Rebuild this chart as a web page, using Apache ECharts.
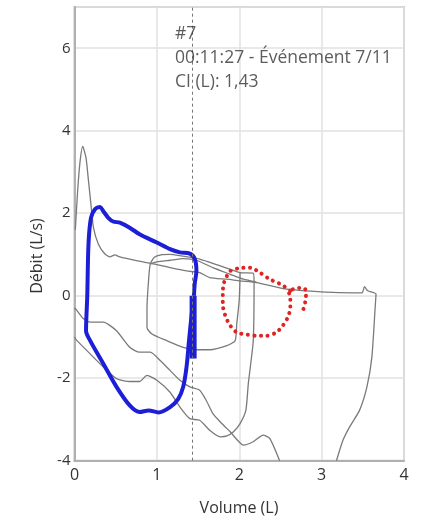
<!DOCTYPE html>
<html>
<head>
<meta charset="utf-8">
<script src="https://cdn.jsdelivr.net/npm/echarts@6/dist/echarts.min.js"></script>
<style>
  html, body { margin: 0; padding: 0; background: #ffffff; }
  #chart { width: 429px; height: 518px; }
</style>
</head>
<body>
<div id="chart"></div>
<script>
// Axis ticks
const xTicks = [0, 1, 2, 3, 4];
const yTicks = [-4, -2, 0, 2, 4, 6];

// Event marker: inspiratory capacity (L)
const eventVolume = 1.43;
const annotationLines = ['#7', '00:11:27 - Événement 7/11', 'CI (L): 1,43'];

// Highlighted loop (blue)
const blueLoop = [
  [1.45, 0.0], [1.46, 0.3], [1.48, 0.6], [1.46, 0.89], [1.40, 1.02], [1.28, 1.05],
  [1.16, 1.13], [1.00, 1.29], [0.79, 1.49], [0.67, 1.65], [0.55, 1.77], [0.47, 1.80],
  [0.41, 1.89], [0.35, 2.05], [0.31, 2.15], [0.25, 2.10], [0.20, 1.89], [0.17, 1.26],
  [0.155, 0.0], [0.14, -0.85], [0.19, -1.09], [0.35, -1.65], [0.51, -2.21], [0.67, -2.66],
  [0.79, -2.82], [0.90, -2.78], [1.02, -2.83], [1.16, -2.70], [1.26, -2.50], [1.32, -2.21],
  [1.36, -1.73], [1.39, -1.09], [1.42, -0.5], [1.45, 0.0]
];
// Thick segment at end of the highlighted loop
const blueBar = [[1.44, 0.0], [1.44, -1.52]];

// Reference loop (red dotted)
const redLoop = [
  [2.78, -0.32], [2.80, -0.16], [2.81, 0.0], [2.80, 0.16], [2.74, 0.19], [2.66, 0.16],
  [2.60, 0.10], [2.62, -0.04], [2.62, -0.28], [2.59, -0.52], [2.53, -0.72], [2.45, -0.89],
  [2.33, -0.97], [2.21, -0.97], [2.09, -0.94], [1.97, -0.89], [1.89, -0.72], [1.83, -0.48],
  [1.80, -0.20], [1.80, 0.04], [1.81, 0.28], [1.85, 0.48], [1.89, 0.60], [2.01, 0.67],
  [2.13, 0.68], [2.25, 0.56], [2.37, 0.40], [2.50, 0.28], [2.58, 0.18], [2.62, 0.12]
];

// Other recorded loops (grey)
const greySpike = [
  [0.01, 1.6], [0.04, 2.6], [0.07, 3.3], [0.10, 3.62], [0.14, 3.34], [0.17, 2.78],
  [0.20, 2.21], [0.23, 1.65], [0.29, 1.25], [0.37, 1.01], [0.43, 0.94], [0.49, 0.99],
  [0.55, 0.94], [0.75, 0.85], [0.96, 0.77], [1.16, 0.68], [1.36, 0.60], [1.52, 0.56],
  [1.64, 0.44], [1.85, 0.40], [2.01, 0.36], [2.21, 0.32], [2.58, 0.16], [3.14, 0.08],
  [3.49, 0.07], [3.52, 0.22], [3.56, 0.12], [3.66, 0.04], [3.65, -0.28], [3.61, -1.49],
  [3.55, -2.21], [3.46, -2.78], [3.34, -3.18], [3.26, -3.5], [3.18, -4.0]
];
const greyBox = [
  [2.01, 0.56], [2.00, -0.1], [1.97, -0.68], [1.95, -1.09], [1.85, -1.21], [1.64, -1.31],
  [1.48, -1.31], [1.32, -1.25], [1.12, -1.09], [0.94, -0.93], [0.88, -0.77], [0.88, -0.3],
  [0.90, 0.4], [0.92, 0.77], [0.97, 0.93], [1.05, 0.99], [1.16, 1.0], [1.28, 0.97],
  [1.52, 0.89], [1.89, 0.64], [2.01, 0.56], [2.17, 0.55], [2.18, 0.3], [2.17, -1.09],
  [2.13, -1.8], [2.11, -2.13], [2.08, -2.78], [2.01, -3.10], [1.93, -3.30], [1.85, -3.40],
  [1.77, -3.42], [1.64, -3.26], [1.52, -3.02], [1.40, -2.98], [1.28, -2.70], [1.16, -2.34],
  [1.00, -2.05], [0.88, -1.93], [0.79, -2.08], [0.67, -2.08], [0.51, -2.01], [0.35, -1.73],
  [0.19, -1.41], [0.03, -1.09], [0.0, -1.0]
];
const greyUpper = [
  [0.93, 0.78], [1.00, 0.82], [1.16, 0.86], [1.32, 0.90], [1.48, 0.86], [1.68, 0.68],
  [1.89, 0.52], [2.05, 0.40], [2.21, 0.33]
];
const greyLower = [
  [0.0, -0.3], [0.03, -0.36], [0.11, -0.56], [0.19, -0.64], [0.35, -0.64], [0.51, -0.85],
  [0.67, -1.25], [0.79, -1.37], [0.92, -1.37], [1.04, -1.57], [1.16, -1.81], [1.28, -2.05],
  [1.40, -2.21], [1.52, -2.29], [1.60, -2.54], [1.68, -2.86], [1.77, -3.06], [1.89, -3.30],
  [2.05, -3.62], [2.17, -3.54], [2.29, -3.38], [2.37, -3.46], [2.49, -4.0]
];

const textFont = '"Open Sans", "DejaVu Sans", sans-serif';
const chart = echarts.init(document.getElementById('chart'));

function greySeries(data) {
  return {
    type: 'line', data: data, showSymbol: false, smooth: 0.2, silent: true,
    lineStyle: { color: '#7a7a7a', width: 1.3 }, z: 2
  };
}

chart.setOption({
  animation: false,
  backgroundColor: '#ffffff',
  grid: {
    left: 74.5, right: 25, top: 7, bottom: 57.3,
    show: true, borderColor: '#c4c4c4', borderWidth: 2
  },
  xAxis: {
    type: 'value', min: xTicks[0], max: xTicks[xTicks.length - 1], interval: 1,
    axisLine: { show: true, onZero: false, lineStyle: { color: '#b0b0b0', width: 2 } },
    axisTick: { show: false },
    axisLabel: { color: '#333', fontSize: 16, fontFamily: textFont, margin: 7 },
    splitLine: { show: true, lineStyle: { color: '#e2e2e2', width: 1.5 } }
  },
  yAxis: {
    type: 'value', min: yTicks[0], max: 7, interval: 2,
    axisLine: { show: true, onZero: false, lineStyle: { color: '#b0b0b0', width: 2 } },
    axisTick: { show: false },
    axisLabel: {
      color: '#333', fontSize: 15, fontFamily: textFont, margin: 4, showMaxLabel: false,
      formatter: v => (yTicks.indexOf(v) >= 0 ? String(v) : '')
    },
    splitLine: { show: true, lineStyle: { color: '#e2e2e2', width: 1.5 } }
  },
  graphic: [
    {
      type: 'text', x: 37, y: 256, rotation: Math.PI / 2,
      style: { text: 'Débit (L/s)', font: '16px ' + textFont, fill: '#333', align: 'center', verticalAlign: 'middle' }
    },
    {
      type: 'text', x: 239, y: 508,
      style: { text: 'Volume (L)', font: '16px ' + textFont, fill: '#333', align: 'center', verticalAlign: 'middle' }
    }
  ],
  series: [
    greySeries(greySpike),
    greySeries(greyBox),
    greySeries(greyUpper),
    greySeries(greyLower),
    {
      type: 'line', data: blueLoop, showSymbol: false, smooth: 0.3, silent: true,
      lineStyle: { color: '#1c1fd6', width: 4 }, z: 4
    },
    {
      type: 'line', data: blueBar, showSymbol: false, silent: true,
      lineStyle: { color: '#1c1fd6', width: 7, cap: 'butt' }, z: 4
    },
    {
      type: 'line', data: redLoop, showSymbol: false, smooth: 0.3, silent: true,
      lineStyle: { color: '#e02424', width: 4, type: [0.1, 6.5], cap: 'round' }, z: 5
    },
    {
      type: 'line', data: [], silent: true, z: 6,
      markLine: {
        silent: true, symbol: ['none', 'none'],
        lineStyle: { color: '#777', width: 1, type: [3, 3] },
        label: { show: false },
        data: [{ xAxis: eventVolume }]
      }
    },
    {
      type: 'scatter', silent: true, z: 7, symbolSize: 0,
      data: [[1.22, 6.35], [1.22, 5.77], [1.22, 5.19]].map((p, i) => ({
        value: p,
        label: {
          show: true, position: 'right', distance: 0, formatter: annotationLines[i],
          color: '#333', fontSize: 17.5, fontFamily: textFont
        }
      }))
    }
  ]
});
</script>
</body>
</html>
